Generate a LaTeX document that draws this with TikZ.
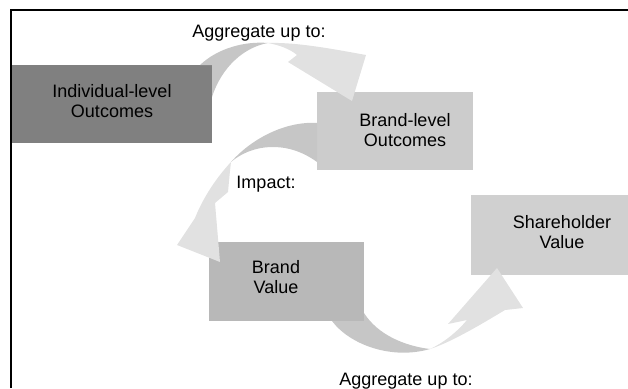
\documentclass[tikz,border=0pt]{standalone}
\usepackage{fontspec}
\setmainfont{Liberation Sans}
\usepackage{tikz}
\definecolor{indivgray}{HTML}{808080}
\definecolor{brandlvlgray}{HTML}{CCCCCC}
\definecolor{brandvalgray}{HTML}{B8B8B8}
\definecolor{sharegray}{HTML}{D0D0D0}
\definecolor{shaftgray}{HTML}{C6C6C6}
\definecolor{headgray}{HTML}{E1E1E1}
\begin{document}
\begin{tikzpicture}[x=1pt,y=-1pt]
		\tikzstyle{every node}+=[inner sep=0pt]
		\tikzstyle{box}=[rectangle, minimum width=156, minimum height=78]
		\tikzstyle{txt}=[font=\fontsize{18}{19.5}\selectfont, align=center, anchor=base]
		\tikzstyle{shaft}=[fill=shaftgray]
		\tikzstyle{head}=[fill=headgray]
		\useasboundingbox (0,0) rectangle (628,388);
		\draw [black, line width=1.6] (11,388) -- (11,10) -- (628,10);
		\node [box, fill=indivgray, minimum width=200] (indiv) at (112,104) {};
		\node [box, fill=brandlvlgray] (brandlvl) at (395,131) {};
		\node [box, fill=brandvalgray, minimum width=155, minimum height=79] (brandval) at (286.5,281.5) {};
		\node [box, fill=sharegray, minimum width=157, minimum height=80] (share) at (549.5,235) {};
		\fill [shaft] (200,65) .. controls (218,48) and (245,41) .. (268,43) .. controls (245,47) and (222,66) .. (212,97) -- (212,65) -- cycle;
		\fill [head] (268,43) .. controls (298,42) and (338,50) .. (366,55) -- (352,101) -- (288,62) -- (297,55) .. controls (290,49) and (279,45) .. (268,43) -- cycle;
		\fill [shaft] (317,123) .. controls (290,121) and (255,135) .. (231,162) .. controls (252,144) and (287,140) .. (317,162) -- cycle;
		\fill [head] (231,162) .. controls (216,178) and (203,198) .. (195,218) -- (177,245) -- (220,262) -- (215,203) -- (228,192) .. controls (229,181) and (230,170) .. (231,162) -- cycle;
		\fill [shaft] (332,321) .. controls (350,345) and (392,360) .. (430,349) .. controls (405,346) and (378,335) .. (364,313) -- (364,321) -- cycle;
		\fill [head] (430,349) .. controls (452,342) and (485,322) .. (505,310) -- (523,308) -- (497,268) -- (448,324) -- (467,320) .. controls (456,333) and (443,343) .. (430,349) -- cycle;
		\node [txt] (aggtop) at (259,37) {Aggregate up to:};
		\node [txt] (indivtxt) at (112,117) {Individual-level\\Outcomes};
		\node [txt] (brandlvltxt) at (405,146) {Brand-level\\Outcomes};
		\node [txt] (impact) at (266,188) {Impact:};
		\node [txt] (brandvaltxt) at (276,293) {Brand\\Value};
		\node [txt] (sharetxt) at (562,248) {Shareholder\\Value};
		\node [txt] (aggbot) at (406,385) {Aggregate up to:};
	\end{tikzpicture}
\end{document}
